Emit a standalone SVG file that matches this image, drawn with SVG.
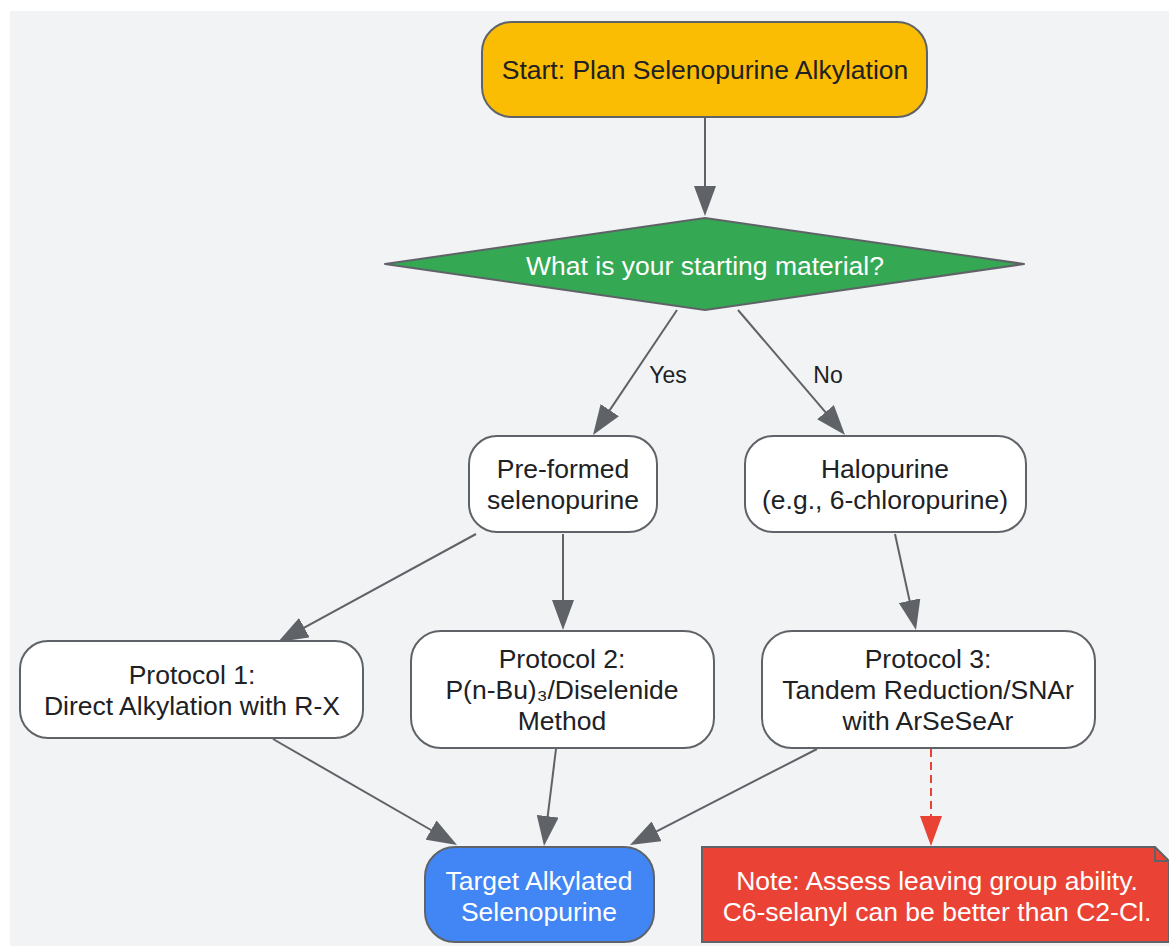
<svg xmlns="http://www.w3.org/2000/svg" width="1169" height="946" viewBox="0 0 1169 946">
<style>
.n{stroke:#5f6368;stroke-width:2}
.t{font-family:"Liberation Sans",Arial,sans-serif;font-size:26.5px;text-anchor:middle;fill:#202124}
.wt{fill:#ffffff}
.c{stroke:#5f6368;stroke-width:2;marker-end:url(#a)}
.l{font-family:"Liberation Sans",Arial,sans-serif;font-size:23px;text-anchor:middle;fill:#202124}
</style>
<defs>
<marker id="a" viewBox="0 0 30 22" refX="22" refY="11" markerWidth="30" markerHeight="22" markerUnits="userSpaceOnUse" orient="auto">
<path d="M0,0 L30,11 L0,22 z" fill="#5f6368"/>
</marker>
<marker id="r" viewBox="0 0 30 22" refX="22" refY="11" markerWidth="30" markerHeight="22" markerUnits="userSpaceOnUse" orient="auto">
<path d="M0,0 L30,11 L0,22 z" fill="#ea4335"/>
</marker>
</defs>
<rect x="0" y="0" width="1169" height="946" fill="#ffffff"/>
<rect x="10" y="11" width="1159" height="935" fill="#f1f3f4"/>
<g id="connectors">
<line class="c" x1="705" y1="117" x2="705" y2="208"/>
<line class="c" x1="677" y1="310" x2="597.5" y2="428.4"/>
<line class="c" x1="738" y1="310" x2="839.8" y2="428.9"/>
<line class="c" x1="476" y1="534" x2="285" y2="638.2"/>
<line class="c" x1="563" y1="534" x2="563" y2="622"/>
<line class="c" x1="895" y1="534" x2="914.3" y2="622.2"/>
<line class="c" x1="273" y1="739" x2="450.1" y2="841"/>
<line class="c" x1="556" y1="749" x2="545" y2="838.1"/>
<line class="c" x1="817" y1="749" x2="637.1" y2="841.3"/>
<line x1="931" y1="749" x2="931" y2="838" stroke="#ea4335" stroke-width="2" stroke-dasharray="8,5" marker-end="url(#r)"/>
<text class="l" x="668" y="383">Yes</text>
<text class="l" x="828" y="383">No</text>
</g>
<g id="start">
<rect class="n" x="482" y="22" width="445" height="95" rx="30" fill="#fbbc04"/>
<text class="t" x="705" y="79">Start: Plan Selenopurine Alkylation</text>
</g>
<g id="decision">
<path class="n" d="M385,264 L705,218 L1024,264 L705,310 z" fill="#34a853" stroke-linejoin="round"/>
<text class="t wt" x="705" y="275">What is your starting material?</text>
</g>
<g id="preformed">
<rect class="n" x="469" y="436" width="188" height="96" rx="28" fill="#ffffff"/>
<text class="t" x="563" y="478">Pre-formed</text>
<text class="t" x="563" y="509">selenopurine</text>
</g>
<g id="halopurine">
<rect class="n" x="745" y="436" width="281" height="96" rx="28" fill="#ffffff"/>
<text class="t" x="885" y="478">Halopurine</text>
<text class="t" x="885" y="509">(e.g., 6-chloropurine)</text>
</g>
<g id="protocol1">
<rect class="n" x="20" y="641" width="343" height="97" rx="28" fill="#ffffff"/>
<text class="t" x="192" y="684">Protocol 1:</text>
<text class="t" x="192" y="715">Direct Alkylation with R-X</text>
</g>
<g id="protocol2">
<rect class="n" x="411" y="631" width="303" height="117" rx="30" fill="#ffffff"/>
<text class="t" x="562" y="668">Protocol 2:</text>
<text class="t" x="562" y="699">P(n-Bu)₃/Diselenide</text>
<text class="t" x="562" y="730">Method</text>
</g>
<g id="protocol3">
<rect class="n" x="762" y="631" width="333" height="117" rx="30" fill="#ffffff"/>
<text class="t" x="928" y="668">Protocol 3:</text>
<text class="t" x="928" y="699">Tandem Reduction/SNAr</text>
<text class="t" x="928" y="730">with ArSeSeAr</text>
</g>
<g id="target">
<rect class="n" x="425" y="847" width="229" height="95" rx="30" fill="#4285f4"/>
<text class="t wt" x="539" y="890">Target Alkylated</text>
<text class="t wt" x="539" y="921">Selenopurine</text>
</g>
<g id="note">
<path class="n" d="M702,847 L1155,847 L1169,861 L1169,942 L702,942 z" fill="#ea4335"/>
<path class="n" d="M1155,847 L1155,861 L1169,861" fill="none"/>
<text class="t wt" x="937" y="890">Note: Assess leaving group ability.</text>
<text class="t wt" x="937" y="921">C6-selanyl can be better than C2-Cl.</text>
</g>
</svg>
